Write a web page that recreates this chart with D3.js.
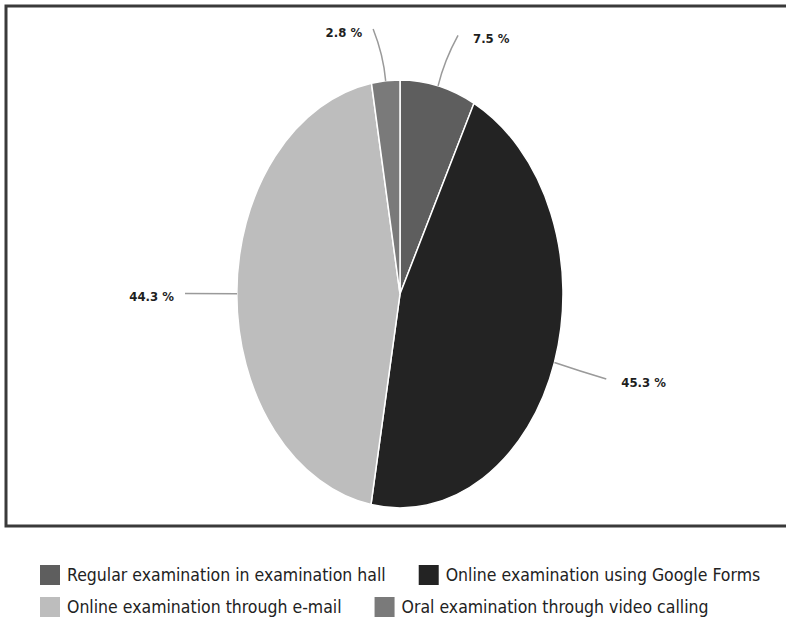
<!DOCTYPE html>
<html>
<head>
<meta charset="utf-8">
<script src="https://cdn.jsdelivr.net/npm/d3@7"></script>
<style>
  html, body { margin: 0; padding: 0; background: #fff; }
  svg { display: block; }
</style>
</head>
<body>
<svg id="chart" width="786" height="619"></svg>
<script>
// Exam modes and their shares (%)
const categories = [
  "Regular examination in examination hall",
  "Online examination using Google Forms",
  "Online examination through e-mail",
  "Oral examination through video calling"
];
const values = [7.5, 45.3, 44.3, 2.8];
const colors = ["#5e5e5e", "#232323", "#bdbdbd", "#7a7a7a"];

const svg = d3.select("#chart");

// Frame around the plot area (open on the right side)
svg.append("path")
  .attr("d", "M 790 6 H 6 V 526 H 790")
  .attr("fill", "none")
  .attr("stroke", "#3a3a3a")
  .attr("stroke-width", 3);

// Elliptical pie: unit arcs scaled into an ellipse
const cx = 400, cy = 294, rx = 163, ry = 214;
const pie = d3.pie().sort(null).value(d => d)(values);
const arc = d3.arc().innerRadius(0).outerRadius(1);

const g = svg.append("g").attr("transform", `translate(${cx},${cy}) scale(${rx},${ry})`);
g.selectAll("path.slice")
  .data(pie)
  .join("path")
  .attr("class", "slice")
  .attr("d", arc)
  .attr("fill", (d, i) => colors[i])
  .attr("stroke", "#fff")
  .attr("stroke-width", 1.5)
  .attr("vector-effect", "non-scaling-stroke");

// Leader lines and value labels
const fmt = v => `${v} %`;
pie.forEach((d, i) => {
  const a = (d.startAngle + d.endAngle) / 2;
  const s = Math.sin(a), c = Math.cos(a);
  const p0 = [cx + rx * s, cy - ry * c];
  const nx = s, ny = -c;
  const len = 52;
  const bend = 8 * Math.sign(s) * Math.abs(c);
  const p2 = [p0[0] + nx * len + bend, p0[1] + ny * len];
  const p1 = [p0[0] + nx * len * 0.5, p0[1] + ny * len * 0.5];
  svg.append("path")
    .attr("d", `M ${p0[0]} ${p0[1]} Q ${p1[0]} ${p1[1]} ${p2[0]} ${p2[1]}`)
    .attr("fill", "none")
    .attr("stroke", "#9a9a9a")
    .attr("stroke-width", 1.5);
  const right = s >= 0;
  svg.append("text")
    .attr("x", p2[0] + (right ? 15 : -11))
    .attr("y", p2[1] + 3)
    .attr("dy", "0.35em")
    .attr("text-anchor", right ? "start" : "end")
    .attr("font-family", "DejaVu Sans Condensed, DejaVu Sans")
    .attr("font-weight", "bold")
    .attr("font-size", 13)
    .attr("fill", "#1e1e1e")
    .text(fmt(values[i]));
});

// Legend, two rows flowing left to right
const legendRows = [[0, 1], [2, 3]];
const rowY = [575, 607];
legendRows.forEach((row, r) => {
  let x = 40;
  row.forEach(i => {
    svg.append("rect")
      .attr("x", x).attr("y", rowY[r] - 10)
      .attr("width", 20).attr("height", 20)
      .attr("fill", colors[i]);
    const t = svg.append("text")
      .attr("x", x + 27).attr("y", rowY[r])
      .attr("dy", "0.35em")
      .attr("font-family", "DejaVu Sans Condensed, DejaVu Sans")
      .attr("font-size", 17.5)
      .attr("fill", "#222")
      .text(categories[i]);
    x += 27 + t.node().getComputedTextLength() + 33;
  });
});
</script>
</body>
</html>
